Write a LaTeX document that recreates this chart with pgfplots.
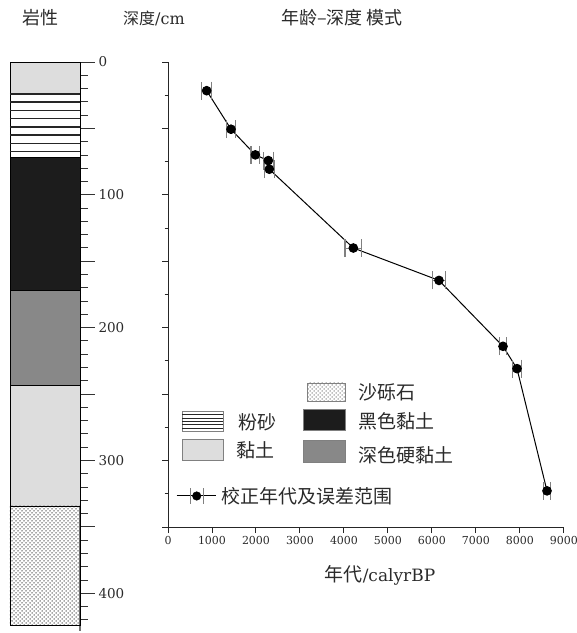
\documentclass[border=0pt]{standalone}
\usepackage{pgfplots}
\pgfplotsset{compat=1.18}
\usepackage{fontspec}
\setmainfont{DejaVu Serif}
\newfontfamily\cjk{Noto Sans CJK SC}
\usetikzlibrary{patterns}
\definecolor{clay}{HTML}{DDDDDD}
\definecolor{blackclay}{HTML}{1C1C1C}
\definecolor{darkclay}{HTML}{888888}
\definecolor{txt}{HTML}{2A2A2A}
\pgfdeclarepatternformonly{sanddots}{\pgfqpoint{-1pt}{-1pt}}{\pgfqpoint{5pt}{5pt}}{\pgfqpoint{4pt}{4pt}}%
{\pgfpathcircle{\pgfqpoint{0pt}{0pt}}{0.75pt}\pgfpathcircle{\pgfqpoint{2pt}{2pt}}{0.75pt}\pgfusepath{fill}}
\begin{document}
\begin{tikzpicture}[x=1pt,y=1pt]
\path[use as bounding box] (0,0) rectangle (577,633);

% ---------- lithology column ----------
\begin{axis}[at={(10pt,571pt)}, anchor=north west, scale only axis,
  width=70pt, height=568.6pt,
  xmin=0, xmax=1, ymin=0, ymax=428, y dir=reverse,
  axis y line*=right, axis x line=none,
  ytick={0,50,...,400}, yticklabels={0,,100,,200,,300,,400},
  minor ytick={0,10,...,420},
  tick align=outside, major tick length=15pt, minor tick length=8pt,
  y axis line style={black!55, line width=2pt},
  every tick/.style={black!80, line width=1pt},
  every minor tick/.style={black!80, line width=1pt},
  yticklabel style={font=\fontsize{13.5}{15}\selectfont, text=txt, anchor=west},
  /pgf/number format/assume math mode=true,
  clip=false]
\addplot[draw=black, fill=clay] coordinates {(0,0) (1,0) (1,24) (0,24)} --cycle;
\addplot[draw=black, fill=white] coordinates {(0,24) (1,24) (1,72) (0,72)} --cycle;
\addplot[black!85, line width=1.4pt] coordinates {(0,24) (1,24)};
\addplot[black!85, line width=1.4pt] coordinates {(0,30.2) (1,30.2)};
\addplot[black!85, line width=1.4pt] coordinates {(0,36.4) (1,36.4)};
\addplot[black!85, line width=1.4pt] coordinates {(0,42.6) (1,42.6)};
\addplot[black!85, line width=1.4pt] coordinates {(0,48.8) (1,48.8)};
\addplot[black!85, line width=1.4pt] coordinates {(0,55.0) (1,55.0)};
\addplot[black!85, line width=1.4pt] coordinates {(0,61.2) (1,61.2)};
\addplot[black!85, line width=1.4pt] coordinates {(0,67.4) (1,67.4)};
\addplot[draw=black, fill=blackclay] coordinates {(0,72) (1,72) (1,172) (0,172)} --cycle;
\addplot[draw=black, fill=darkclay] coordinates {(0,172) (1,172) (1,243) (0,243)} --cycle;
\addplot[draw=black, fill=clay] coordinates {(0,243) (1,243) (1,334) (0,334)} --cycle;
\addplot[draw=black, pattern=sanddots, pattern color=black!70] coordinates {(0,334) (1,334) (1,424) (0,424)} --cycle;
\end{axis}

% ---------- age-depth model ----------
\begin{axis}[at={(168pt,571pt)}, anchor=north west, scale only axis,
  width=396pt, height=465pt,
  xmin=0, xmax=9000, ymin=0, ymax=350, y dir=reverse,
  axis x line*=bottom, axis y line*=left,
  axis line style={black!85, line width=1pt},
  xtick={0,1000,...,9000},
  ytick={0,50,...,350}, yticklabels={},
  minor ytick={25,75,...,325},
  tick align=outside, major tick length=6pt, minor tick length=3.5pt,
  every tick/.style={black!85, line width=1pt},
  every minor tick/.style={black!85, line width=1pt},
  scaled x ticks=false,
  xticklabel style={font=\fontsize{11}{13}\selectfont, text=txt, /pgf/number format/1000 sep={}},
  /pgf/number format/assume math mode=true,
  legend style={draw=none, fill=none, at={(axis description cs:0.0202,0.0667)}, anchor=west,
    font=\cjk\fontsize{19}{21}\selectfont, text=txt, inner sep=0pt},
  legend cell align=left,
  clip=false]
\addplot[forget plot, black, line width=1pt, mark=*, mark size=4.3pt, mark options={fill=black, draw=black},
  error bars/.cd, x dir=both, x explicit,
  error bar style={gray, line width=1pt},
  error mark=|,
  error mark options={gray, mark size=9pt, line width=1.2pt}]
  table[x=x, y=y, x error=ex] {
  x     y      ex
  879   21.6   110
  1432  50.6   110
  1985  69.9   100
  2280  74.2   110
  2303  80.7   110
  4212  140.0  190
  6159  164.4  140
  7614  214.0  75
  7932  230.8  100
  8614  322.8  85
};
\addlegendimage{legend image code/.code={
  \draw[black, line width=1pt] (0pt,0pt) -- (39pt,0pt);
  \draw[gray, line width=1.2pt] (14pt,-8pt) -- (14pt,8pt) (27pt,-8pt) -- (27pt,8pt);
  \fill[black] (20pt,0pt) circle (4.3pt);
}}
\addlegendentry{}
\end{axis}

% ---------- lithology legend ----------
\begin{scope}[font=\cjk\fontsize{19}{21}\selectfont, text=txt]
\draw[black!50, pattern=sanddots, pattern color=black!50] (307,232) rectangle (345,250);
\node[anchor=west, inner sep=0pt] at (358,241) {沙砾石};
\draw[black!50, fill=white] (182,202) rectangle (223,222);
\foreach \yy in {205,208.3,211.6,214.9,218.2} \draw[black!85, line width=0.9pt] (182,\yy) -- (223,\yy);
\node[anchor=west, inner sep=0pt] at (238,211) {粉砂};
\draw[black!50, fill=blackclay] (303,203) rectangle (345,224);
\node[anchor=west, inner sep=0pt] at (358,212) {黑色黏土};
\draw[black!50, fill=clay] (182,173) rectangle (223,194);
\node[anchor=west, inner sep=0pt] at (236,183) {黏土};
\draw[black!50, fill=darkclay] (303,171) rectangle (345,193);
\node[anchor=west, inner sep=0pt] at (358,178) {深色硬黏土};
\node[anchor=west, inner sep=0pt] at (221,137) {校正年代及误差范围};
\end{scope}

% ---------- titles ----------
\node[text=txt, font=\cjk\fontsize{18}{20}\selectfont] at (41,615) {岩性};
\node[text=txt, font=\fontsize{16}{18}\selectfont] at (154,615) {{\cjk 深度}/cm};
\node[text=txt, font=\cjk\fontsize{18}{20}\selectfont] at (342,615) {年龄–深度 模式};
\node[text=txt, font=\fontsize{17}{19}\selectfont] at (380,58) {{\cjk\fontsize{19}{21}\selectfont 年代}/calyrBP};
\end{tikzpicture}
\end{document}
